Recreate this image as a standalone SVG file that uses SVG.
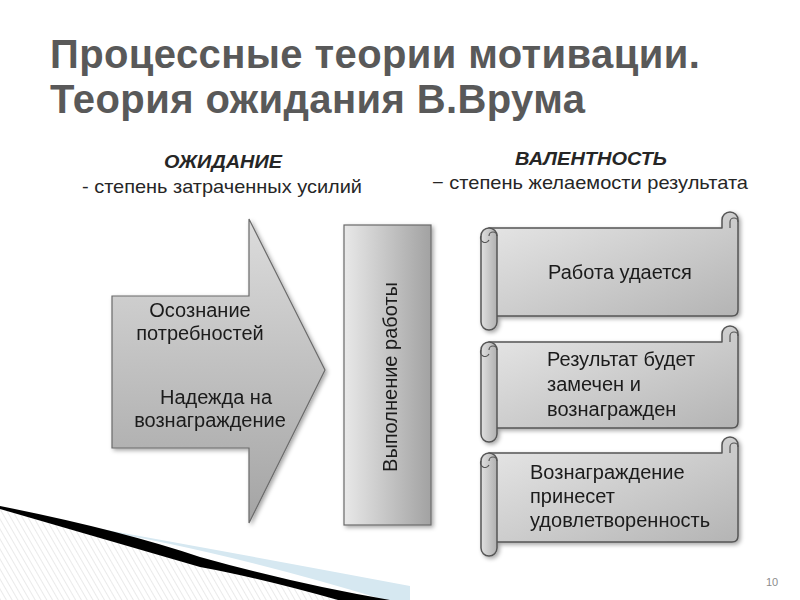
<svg xmlns="http://www.w3.org/2000/svg" width="800" height="600" viewBox="0 0 800 600">
<style>
.title{font-family:"Liberation Sans",Arial,sans-serif;font-weight:bold;font-size:40px;letter-spacing:0.4px;fill:#595959}
.hd{font-family:"Liberation Sans",Arial,sans-serif;font-weight:bold;font-style:italic;font-size:19px;fill:#262626;text-anchor:middle}
.sub{font-family:"Liberation Sans",Arial,sans-serif;font-size:19px;fill:#262626;text-anchor:middle}
.t{font-family:"Liberation Sans",Arial,sans-serif;font-size:20px;fill:#1a1a1a}
.c{text-anchor:middle}
.shape{stroke:#6b6b6b;stroke-width:1.2}
.scroll{fill:url(#gScroll);stroke:#555;stroke-width:1.5;stroke-linejoin:round}
.roll{fill:url(#gRoll);stroke:#555;stroke-width:1.5}
.curl{fill:none;stroke:#555;stroke-width:1.2}
</style>
<defs>
<linearGradient id="gArrow" x1="0" y1="0" x2="0" y2="1">
<stop offset="0" stop-color="#dcdcdc"/><stop offset="1" stop-color="#a4a4a4"/>
</linearGradient>
<linearGradient id="gRect" x1="0" y1="0" x2="1" y2="0">
<stop offset="0" stop-color="#e8e8e8"/><stop offset="1" stop-color="#a2a2a2"/>
</linearGradient>
<linearGradient id="gScroll" x1="0" y1="0" x2="1" y2="1">
<stop offset="0" stop-color="#e8e8e8"/><stop offset="1" stop-color="#b4b4b4"/>
</linearGradient>
<linearGradient id="gRoll" x1="0" y1="0" x2="1" y2="0">
<stop offset="0" stop-color="#e0e0e0"/><stop offset="1" stop-color="#b0b0b0"/>
</linearGradient>
<filter id="sh" x="-10%" y="-10%" width="130%" height="130%">
<feDropShadow dx="2" dy="2" stdDeviation="2" flood-color="#000" flood-opacity="0.35"/>
</filter>
<pattern id="hatch" width="5" height="5" patternUnits="userSpaceOnUse" patternTransform="rotate(-30)">
<rect width="5" height="5" fill="#ffffff"/>
<line x1="0" y1="0" x2="0" y2="5" stroke="#e4e4e4" stroke-width="1.5"/>
</pattern>
</defs>

<rect width="800" height="600" fill="#ffffff"/>

<g id="decoration">
<path d="M0,507 Q180,550 350,600 L0,600 Z" fill="url(#hatch)"/>
<path d="M90,527 Q250,556 410,586 L410,600 L385,600 Q220,550 90,529 Z" fill="#d6e8f1"/>
<path d="M0,506 Q120,530 200,557 Q300,585 390,600 L338,600 Q260,578 200,567 Q100,538 0,509 Z" fill="#000000"/>
</g>

<g id="title">
<text class="title" x="50" y="68">Процессные теории мотивации.</text>
<text class="title" x="50" y="113">Теория ожидания В.Врума</text>
</g>

<g id="headings">
<text class="hd" x="223" y="168" textLength="118" lengthAdjust="spacingAndGlyphs">ОЖИДАНИЕ</text>
<text class="sub" x="222" y="193" textLength="280" lengthAdjust="spacingAndGlyphs">- степень затраченных усилий</text>
<text class="hd" x="591" y="165" textLength="152" lengthAdjust="spacingAndGlyphs">ВАЛЕНТНОСТЬ</text>
<text class="sub" x="590" y="189" textLength="316" lengthAdjust="spacingAndGlyphs">− степень желаемости результата</text>
</g>

<g id="arrow" filter="url(#sh)">
<path class="shape" d="M112,296 L249,296 L249,219 L325,370 L249,523 L249,448 L112,448 Z" fill="url(#gArrow)"/>
<text class="t c" x="200" y="317">Осознание</text>
<text class="t c" x="200" y="340">потребностей</text>
<text class="t c" x="216" y="404">Надежда на</text>
<text class="t c" x="210" y="427">вознаграждение</text>
</g>

<g id="work" filter="url(#sh)">
<rect class="shape" x="344" y="225" width="87" height="300" fill="url(#gRect)"/>
<text class="t c" transform="translate(397,377) rotate(-90)">Выполнение работы</text>
</g>

<g id="scroll1" filter="url(#sh)">
<path class="scroll" d="M489,228 H722 V220 A8,8 0 0 1 738,220 V310 Q738,316 732,316 H489 Z"/>
<path class="roll" d="M481,236 A8,8 0 0 1 497,236 V322 A8,8 0 0 1 481,322 Z"/>
<path class="curl" d="M489,236 A4,4 0 0 1 497,236 M730,228 V222 A4,4 0 0 1 738,222 M481,236 A4,4 0 0 0 489,240"/>
<text class="t c" x="620" y="279">Работа удается</text>
</g>

<g id="scroll2" filter="url(#sh)">
<path class="scroll" d="M489,342 H722 V334 A8,8 0 0 1 738,334 V422 Q738,428 732,428 H489 Z"/>
<path class="roll" d="M481,350 A8,8 0 0 1 497,350 V434 A8,8 0 0 1 481,434 Z"/>
<path class="curl" d="M489,350 A4,4 0 0 1 497,350 M730,342 V336 A4,4 0 0 1 738,336 M481,350 A4,4 0 0 0 489,354"/>
<text class="t" x="547" y="366">Результат будет</text>
<text class="t" x="547" y="391">замечен и</text>
<text class="t" x="547" y="416">вознагражден</text>
</g>

<g id="scroll3" filter="url(#sh)">
<path class="scroll" d="M489,453 H722 V445 A8,8 0 0 1 738,445 V536 Q738,542 732,542 H489 Z"/>
<path class="roll" d="M481,461 A8,8 0 0 1 497,461 V548 A8,8 0 0 1 481,548 Z"/>
<path class="curl" d="M489,461 A4,4 0 0 1 497,461 M730,453 V447 A4,4 0 0 1 738,447 M481,461 A4,4 0 0 0 489,465"/>
<text class="t" x="530" y="479">Вознаграждение</text>
<text class="t" x="530" y="503">принесет</text>
<text class="t" x="530" y="527">удовлетворенность</text>
</g>

<text x="772" y="586" font-family="Liberation Sans, Arial, sans-serif" font-size="11" fill="#8c8c8c" text-anchor="middle">10</text>
</svg>
